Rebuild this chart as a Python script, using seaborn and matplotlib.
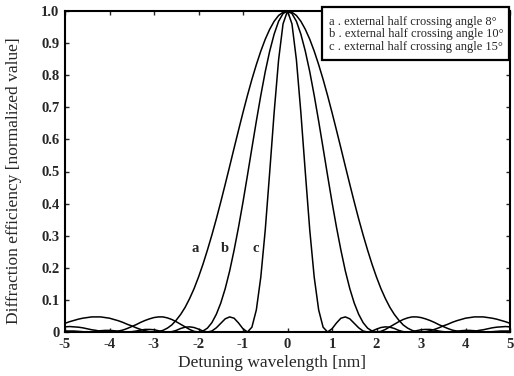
import numpy as np
import pandas as pd
import matplotlib
matplotlib.use("Agg")
import matplotlib.pyplot as plt
import matplotlib.patches as mpatches
import seaborn as sns

# Detuning wavelength grid [nm]
detuning = np.round(np.linspace(-5, 5, 101), 1)

# a : external half crossing angle 8 deg (widest)
eff_a = [.027, .032, .036, .040, .043, .045, .047, .047, .047, .045, .043, .039, .035, .030, .024, .019, .013, .008, .004, .001,
         .000, .001, .005, .012, .022, .037, .055, .077, .104, .135, .171, .211, .255, .302, .352, .405, .460, .516, .573, .629,
         .684, .737, .787, .833, .875, .912, .943, .968, .986, .996,
         1.000,
         .996, .986, .968, .943, .912, .875, .833, .787, .737, .684, .629, .573, .516, .460, .405, .352, .302, .255, .211,
         .171, .135, .104, .077, .055, .037, .022, .012, .005, .001, .000, .001, .004, .008, .013, .019, .024, .030, .035,
         .039, .043, .045, .047, .047, .047, .045, .043, .040, .036, .032, .027]

# b : external half crossing angle 10 deg
eff_b = [.016, .017, .016, .015, .013, .010, .007, .005, .002, .001, .000, .001, .003, .006, .011, .017, .023, .030, .036, .041,
         .045, .047, .047, .044, .039, .032, .024, .016, .008, .002, .000, .003, .012, .029, .055, .090, .135, .190, .255, .327,
         .405, .488, .573, .657, .737, .811, .875, .928, .968, .992,
         1.000,
         .992, .968, .928, .875, .811, .737, .657, .573, .488, .405, .327, .255, .190, .135, .090, .055, .029, .012, .003,
         .000, .002, .008, .016, .024, .032, .039, .044, .047, .047, .045, .041, .036, .030, .023, .017, .011, .006, .003,
         .001, .000, .001, .002, .005, .007, .010, .013, .015, .016, .017, .016]

# c : external half crossing angle 15 deg (narrowest)
eff_c = [.003, .003, .003, .002, .001, .000, .001, .002, .004, .005, .005, .004, .002, .001, .000, .001, .003, .006, .008, .008,
         .007, .004, .001, .000, .001, .005, .011, .015, .016, .014, .009, .003, .000, .003, .013, .027, .041, .047, .043, .028,
         .010, .000, .015, .069, .171, .318, .498, .684, .848, .960,
         1.000,
         .960, .848, .684, .498, .318, .171, .069, .015, .000, .010, .028, .043, .047, .041, .027, .013, .003, .000, .003,
         .009, .014, .016, .015, .011, .005, .001, .000, .001, .004, .007, .008, .008, .006, .003, .001, .000, .001, .002,
         .004, .005, .005, .004, .002, .001, .000, .001, .002, .003, .003, .003]

curve_names = ["a", "b", "c"]
legend_lines = ["a . external half crossing angle 8\u00b0",
                "b . external half crossing angle 10\u00b0",
                "c . external half crossing angle 15\u00b0"]
x_ticks = [-5, -4, -3, -2, -1, 0, 1, 2, 3, 4, 5]
y_ticks = [0, 0.1, 0.2, 0.3, 0.4, 0.5, 0.6, 0.7, 0.8, 0.9, 1.0]
y_tick_labels = ["0", "0.1", "0.2", "0.3", "0.4", "0.5", "0.6", "0.7", "0.8", "0.9", "1.0"]

df = pd.DataFrame({
    "detuning": np.concatenate([detuning] * 3),
    "eff": np.concatenate([eff_a, eff_b, eff_c]),
    "curve": np.repeat(curve_names, len(detuning)),
})

sns.set_style("ticks")
plt.rcParams["font.family"] = ["Liberation Serif", "DejaVu Serif"]

W, H = 514, 376
ax_l, ax_r, ax_t, ax_b = 65, 510, 11, 332
fig = plt.figure(figsize=(W / 100, H / 100), dpi=100)
ax = fig.add_axes([ax_l / W, 1 - ax_b / H, (ax_r - ax_l) / W, (ax_b - ax_t) / H])

sns.lineplot(data=df, x="detuning", y="eff", units="curve", estimator=None,
             color="black", linewidth=1.1, ax=ax, legend=False)

ax.set_xlim(-5, 5)
ax.set_ylim(0, 1.0)
ax.set_xticks(x_ticks)
ax.set_xticklabels([str(t) for t in x_ticks])
ax.set_yticks(y_ticks)
ax.set_yticklabels(y_tick_labels)
ax.tick_params(direction="in", length=3, width=1, labelsize=10.5, pad=4,
               top=True, right=True)
for lab in ax.get_xticklabels() + ax.get_yticklabels():
    lab.set_fontweight("bold")
for s in ax.spines.values():
    s.set_linewidth(1.5)
    s.set_color("black")

ax.set_xlabel("Detuning wavelength [nm]", fontsize=12.5, va="center")
ax.xaxis.set_label_coords((272 - ax_l) / (ax_r - ax_l), -(363 - ax_b) / (ax_b - ax_t))
ax.set_ylabel("Diffraction efficiency [normalized value]", fontsize=12.5, va="center")
ax.yaxis.set_label_coords(-(ax_l - 14) / (ax_r - ax_l), (ax_b - 181) / (ax_b - ax_t))

# curve labels
for name, xpos in zip(curve_names, [-2.08, -1.41, -0.72]):
    ax.text(xpos, 0.26, name, fontsize=10.5, fontweight="bold", ha="center", va="center")

# legend box (drawn in figure pixels)
box = mpatches.Rectangle((322 / W, 1 - 60 / H), (509 - 322) / W, (60 - 7) / H,
                         transform=fig.transFigure, facecolor="white",
                         edgecolor="black", linewidth=1.6, zorder=5)
fig.add_artist(box)
for line, ypx in zip(legend_lines, [22, 34.5, 47]):
    fig.text(329 / W, 1 - ypx / H, line, fontsize=9, va="center", ha="left", zorder=6)

fig.savefig("out.png", dpi=100)
